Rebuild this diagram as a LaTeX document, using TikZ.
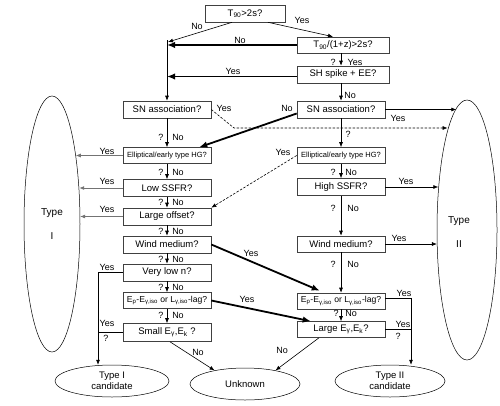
\documentclass[tikz,border=0pt]{standalone}
\usepackage{fontspec}
\setmainfont{Liberation Sans}
\usetikzlibrary{shapes.geometric,arrows.meta,calc}
\begin{document}
\begin{tikzpicture}[x=1pt,y=-1pt,
  box/.style={draw=black!75,line width=0.6pt,fill=white,minimum width=88pt,minimum height=17pt,inner sep=1pt,font=\fontsize{9.5}{11}\selectfont},
  sbox/.style={box,font=\fontsize{7.5}{9}\selectfont},
  ebox/.style={box,font=\fontsize{8.6}{10}\selectfont},
  oval/.style={draw,ellipse,line width=0.5pt,inner sep=0pt},
  lab/.style={inner sep=0pt,font=\fontsize{9}{10}\selectfont},
  arr/.style={line width=0.6pt,-{Latex[length=5pt,width=4pt]}},
  thk/.style={line width=1.8pt,-{Latex[length=8pt,width=6.5pt]}},
  dsh/.style={arr,dash pattern=on 2.5pt off 1.5pt},
  gry/.style={arr,draw=black!55}
]
\useasboundingbox (0,0) rectangle (500,405);

% boxes
\node[box,minimum width=80pt] (t90) at (245,13.5) {T\textsubscript{90}>2s?};
\node[box,minimum width=92pt,minimum height=16pt] (t90z) at (343,45) {T\textsubscript{90}/(1+z)>2s?};
\node[box,minimum width=92pt] (sh) at (343,74.5) {SH spike + EE?};
\node[box] (snL) at (167,109.5) {SN association?};
\node[box] (snR) at (341,109.5) {SN association?};
\node[sbox,minimum height=16pt] (ellL) at (167,155.5) {Elliptical/early type HG?};
\node[sbox,minimum height=16pt] (ellR) at (341,155.5) {Elliptical/early type HG?};
\node[box] (lowssfr) at (167,188) {Low SSFR?};
\node[box] (highssfr) at (341,187) {High SSFR?};
\node[box] (offset) at (167,216.5) {Large offset?};
\node[box] (windL) at (167,244.5) {Wind medium?};
\node[box,minimum height=16pt] (windR) at (341,244) {Wind medium?};
\node[box] (vlown) at (167,272.5) {Very low n?};
\node[ebox,minimum height=16pt] (epL) at (167,300.5) {E\textsubscript{p}-E\textsubscript{γ,iso} or L\textsubscript{γ,iso}-lag?};
\node[ebox,minimum height=16pt] (epR) at (341,301) {E\textsubscript{p}-E\textsubscript{γ,iso} or L\textsubscript{γ,iso}-lag?};
\node[box,minimum height=18pt] (small) at (167,332.5) {Small E\textsubscript{γ},E\textsubscript{k} ?};
\node[box,minimum height=16pt] (large) at (341,329.5) {Large E\textsubscript{γ},E\textsubscript{k}?};

% ellipses
\node[oval,minimum width=56pt,minimum height=256pt,align=center,font=\fontsize{10}{12}\selectfont] (typeI) at (52,224) {Type\\[12pt]I};
\node[oval,minimum width=60pt,minimum height=260pt] (typeII) at (467,230) {};
\node[lab,font=\fontsize{10}{12}\selectfont,align=center] (typeIItxt) at (459,232) {Type\\[12pt]II};
\node[oval,minimum width=114pt,minimum height=32pt,align=center,font=\fontsize{9.5}{11.5}\selectfont] (candI) at (112,381) {Type I\\candidate};
\node[oval,minimum width=110pt,minimum height=32pt,font=\fontsize{9.5}{11.5}\selectfont] (unknown) at (245,384) {Unknown};
\node[oval,minimum width=110pt,minimum height=32pt,align=center,font=\fontsize{9.5}{11.5}\selectfont] (candII) at (390,381) {Type II\\candidate};

% helper coordinates
\coordinate (vtop) at (167,40);
\coordinate (jNo) at (168,42);
\coordinate (jTh) at (167,45);
\coordinate (jSH) at (167,76.5);
\coordinate (dbend) at (234,128);
\coordinate (lvx) at ([xshift=-14pt]candI.north);
\coordinate (rvx) at ([xshift=21pt]candII.north);

% connectors
\draw[arr] ([xshift=-13pt]t90.south) -- (jNo);
\draw[arr] ([xshift=23pt]t90.south) -- ([xshift=-10pt]t90z.north);
\draw[thk] (t90z.west) -- (jTh);
\draw[thk] ([yshift=-2pt]sh.west) -- (jSH);
\draw[arr] (vtop) -- (snL.north);
\draw[arr] (t90z.south -| snR) -- (sh.north -| snR);
\draw[arr] (sh.south -| snR) -- (snR.north);
\draw[arr] (snR.east) -- (typeII.95 |- snR.east);
\draw[dsh] (snL.east) -- (dbend) -- (typeII.101 |- dbend);
\draw[thk] ([yshift=-4pt]snR.west) -- ([xshift=-12pt]ellL.north east);
\draw[arr] (snL.south) -- (ellL.north);
\draw[arr] (snR.south) -- (ellR.north);
\draw[gry] (ellL.west) -- (typeI.71 |- ellL.west);
\draw[dsh] (ellR.west) -- (offset.north east);
\draw[arr] (ellL.south) -- (lowssfr.north);
\draw[arr] (ellR.south) -- (highssfr.north);
\draw[gry,line width=1pt] (lowssfr.west) -- (typeI.53 |- lowssfr.west);
\draw[arr] (highssfr.east) -- (typeII.125 |- highssfr.east);
\draw[arr] (lowssfr.south) -- (offset.north);
\draw[gry] (offset.west) -- (typeI.14 |- offset.west);
\draw[arr] (offset.south) -- (windL.north);
\draw[arr] (highssfr.south) -- (windR.north);
\draw[arr] (windR.east) -- (typeII.204 |- windR.east);
\draw[thk] (windL.east) -- ([xshift=23pt,yshift=2pt]epR.north west);
\draw[arr] (windL.south) -- (vlown.north);
\draw[arr] (windR.south) -- (epR.north);
\draw[arr] (vlown.west) -| (lvx);
\draw[arr] (vlown.south) -- (epL.north);
\draw[arr] (epL.south) -- (small.north);
\draw[line width=0.6pt] (small.west) -- (small.west -| lvx);
\draw[arr] ([xshift=3pt]small.south) -- (unknown.156);
\draw[thk] (epL.east) -- ([xshift=14pt]large.north west);
\draw[arr] ([yshift=3pt]epR.east) -| (rvx);
\draw[arr] (epR.south) -- (large.north);
\draw[line width=0.6pt] (large.east) -- (large.east -| rvx);
\draw[arr] ([xshift=-22pt]large.south) -- (unknown.24);

% labels
\node[lab] (l1) at (197,26) {No};
\node[lab] (l2) at (302,20) {Yes};
\node[lab] (l3) at (240,40) {No};
\node[lab] (l4) at (233,71) {Yes};
\node[lab] (l5) at (333,62) {?};
\node[lab] (l6) at (355,62) {Yes};
\node[lab] (l7) at (350,95) {No};
\node[lab] (l8) at (224,108) {Yes};
\node[lab] (l9) at (287,108) {No};
\node[lab] (l10) at (398,118) {Yes};
\node[lab] (l11) at (161,137) {?};
\node[lab] (l12) at (178,137) {No};
\node[lab] (l13) at (348,134) {?};
\node[lab] (l14) at (107,151) {Yes};
\node[lab] (l15) at (283,152) {Yes};
\node[lab] (l16) at (161,172) {?};
\node[lab] (l17) at (178,172) {No};
\node[lab] (l18) at (333,172) {?};
\node[lab] (l19) at (351,172) {No};
\node[lab] (l20) at (107,181) {Yes};
\node[lab] (l21) at (406,181) {Yes};
\node[lab] (l22) at (161,202) {?};
\node[lab] (l23) at (178,202) {No};
\node[lab] (l24) at (107,209) {Yes};
\node[lab] (l25) at (333,208) {?};
\node[lab] (l26) at (353,208) {No};
\node[lab] (l27) at (161,231) {?};
\node[lab] (l28) at (178,231) {No};
\node[lab] (l29) at (399,238) {Yes};
\node[lab] (l30) at (251,253) {Yes};
\node[lab] (l31) at (161,259) {?};
\node[lab] (l32) at (178,259) {No};
\node[lab] (l33) at (333,264) {?};
\node[lab] (l34) at (353,264) {No};
\node[lab] (l35) at (107,267) {Yes};
\node[lab] (l36) at (161,287) {?};
\node[lab] (l37) at (178,287) {No};
\node[lab] (l38) at (247,299) {Yes};
\node[lab] (l39) at (404,293) {Yes};
\node[lab] (l40) at (336,313) {?};
\node[lab] (l41) at (351,313) {No};
\node[lab] (l42) at (161,315) {?};
\node[lab] (l43) at (178,315) {No};
\node[lab] (l44) at (107,323) {Yes};
\node[lab] (l45) at (106,338) {?};
\node[lab] (l46) at (403,324) {Yes};
\node[lab] (l47) at (398,336) {?};
\node[lab] (l48) at (198,352) {No};
\node[lab] (l49) at (282,350) {No};
\end{tikzpicture}
\end{document}
